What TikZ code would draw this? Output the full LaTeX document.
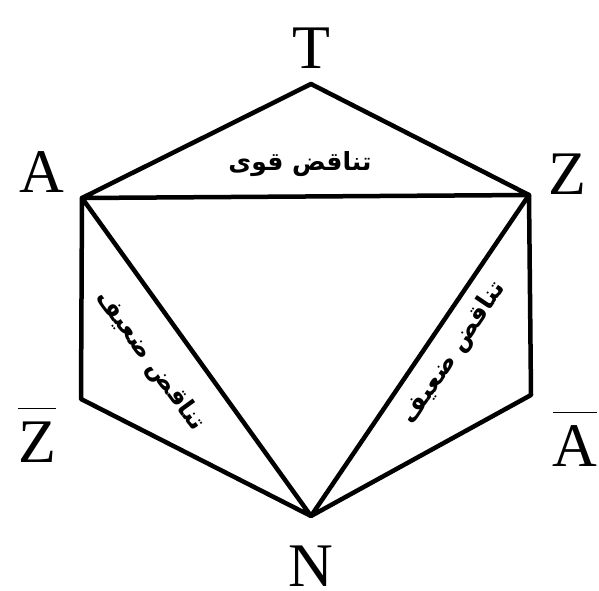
\documentclass[tikz,border=0pt]{standalone}
\usepackage{fontspec}
\setmainfont{Liberation Serif}
\newfontfamily\arabicfont[Script=Arabic]{DejaVu Sans}
\TeXXeTstate=1
\usetikzlibrary{positioning}
\newcommand{\barred}[1]{$\overline{\hbox{\raisebox{0pt}[1.3\height]{#1}}}$}

\begin{document}
\begin{tikzpicture}[
    x=1pt, y=1pt,
    letter/.style={font=\fontsize{62}{62}\selectfont, inner sep=0pt},
    label/.style={font=\arabicfont\bfseries\fontsize{25}{25}\selectfont, inner sep=0pt},
    edge/.style={line width=4.5pt, line join=round, line cap=round}
]
    % Frame
    \useasboundingbox[fill=white] (0,0) rectangle (599,590);

    % Vertices
    \coordinate (T) at (311,506);
    \coordinate (A) at (82,392);
    \coordinate (Z) at (529,395);
    \coordinate (Zb) at (81,191);
    \coordinate (Ab) at (531,195);
    \coordinate (N) at (311,74);

    % Letters
    \node[letter] (tT) at (311,542) {T};
    \node[letter] (tA) at (42,418) {A};
    \node[letter] (tZ) at (567,416) {Z};
    \node[letter] (tZb) at (37,155) {\barred{Z}};
    \node[letter] (tAb) at (575,151) {\barred{A}};
    \node[letter] (tN) at (311,24) {N};

    % Edges
    \draw[edge] (A) -- (T) -- (Z) -- (A);
    \draw[edge] (A) -- (Zb) -- (N) -- (A);
    \draw[edge] (Z) -- (Ab) -- (N) -- (Z);

    % Arabic labels
    \node[label] (strong) at (300,426) {\beginR تناقض قوی\endR};
    \node[label, rotate=-54] (weakA) at (150,229) {\beginR تناقض ضعیف\endR};
    \node[label, rotate=56] (weakZ) at (454,237) {\beginR تناقض ضعیف\endR};
\end{tikzpicture}
\end{document}
